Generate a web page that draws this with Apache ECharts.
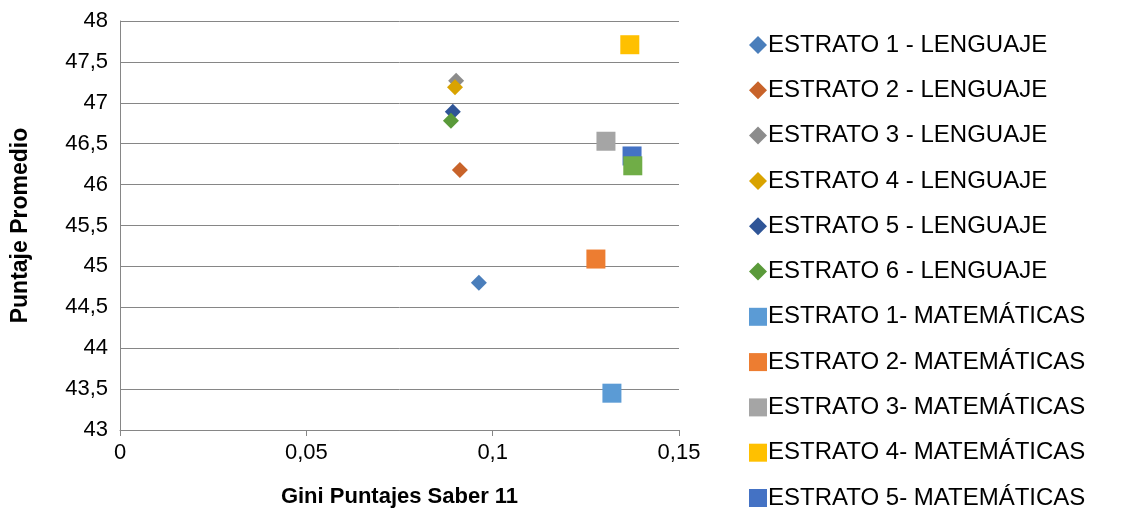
<!DOCTYPE html>
<html><head><meta charset="utf-8">
<script src="https://cdn.jsdelivr.net/npm/echarts@6/dist/echarts.min.js"></script>
<style>html,body{margin:0;padding:0;background:#fff}#c{width:1129px;height:514px}</style>
</head><body><div id="c"></div>
<script>
const seriesNames = ["ESTRATO 1 - LENGUAJE","ESTRATO 2 - LENGUAJE","ESTRATO 3 - LENGUAJE","ESTRATO 4 - LENGUAJE","ESTRATO 5 - LENGUAJE","ESTRATO 6 - LENGUAJE","ESTRATO 1- MATEMÁTICAS","ESTRATO 2- MATEMÁTICAS","ESTRATO 3- MATEMÁTICAS","ESTRATO 4- MATEMÁTICAS","ESTRATO 5- MATEMÁTICAS","ESTRATO 6- MATEMÁTICAS"];
const giniValues = [0.0963,0.0912,0.0902,0.0899,0.0893,0.0888,0.1320,0.1277,0.1304,0.1368,0.1374,0.1376];
const puntajeValues = [44.80,46.18,47.27,47.19,46.89,46.78,43.45,45.09,46.53,47.71,46.35,46.23];
const colors = ["#4A7EBB","#C8632A","#8C8C8C","#D9A300","#2F5597","#5A9A3A","#5B9BD5","#ED7D31","#A5A5A5","#FFC000","#4472C4","#70AD47"];
const font = "Liberation Sans, Arial, sans-serif";
const series = seriesNames.map((n,i)=>({
  name:n, type:'scatter', data:[[giniValues[i],puntajeValues[i]]],
  symbol: i<6 ? 'diamond' : 'rect', symbolSize: i<6 ? 16 : 19,
  itemStyle:{color:colors[i],opacity:1}
}));
const chart = echarts.init(document.getElementById('c'));
chart.setOption({
  animation:false,
  grid:{left:120,right:450,top:21,bottom:84},
  xAxis:{type:'value',min:0,max:0.15,interval:0.05,
    name:'Gini Puntajes Saber 11',nameLocation:'middle',nameGap:56,
    nameTextStyle:{fontFamily:font,fontSize:22,fontWeight:'bold',color:'#000'},
    axisLine:{lineStyle:{color:'#868686'}},axisTick:{show:true,length:6,lineStyle:{color:'#868686'}},
    splitLine:{show:false},
    axisLabel:{fontFamily:font,fontSize:22,color:'#000',margin:12,formatter:v=>String(v).replace('.',',')}},
  yAxis:{type:'value',min:43,max:48,interval:0.5,
    name:'Puntaje Promedio',nameLocation:'middle',nameGap:88,
    nameTextStyle:{fontFamily:font,fontSize:23,fontWeight:'bold',color:'#000'},
    axisLine:{show:true,lineStyle:{color:'#868686'}},axisTick:{show:false},
    splitLine:{lineStyle:{color:'#868686'}},
    axisLabel:{fontFamily:font,fontSize:22,color:'#000',margin:12,formatter:v=>String(v).replace('.',',')}},
  legend:{orient:'vertical',left:744,top:28,height:2000,itemGap:21.3,itemWidth:18,itemHeight:18,
    data:seriesNames.slice(0,11).map((n,i)=>({name:n,icon:i<6?'diamond':'rect',itemStyle:{opacity:1}})),
    textStyle:{fontFamily:font,fontSize:24,color:'#000',padding:[0,0,0,-4]}},
  series
});
</script></body></html>
